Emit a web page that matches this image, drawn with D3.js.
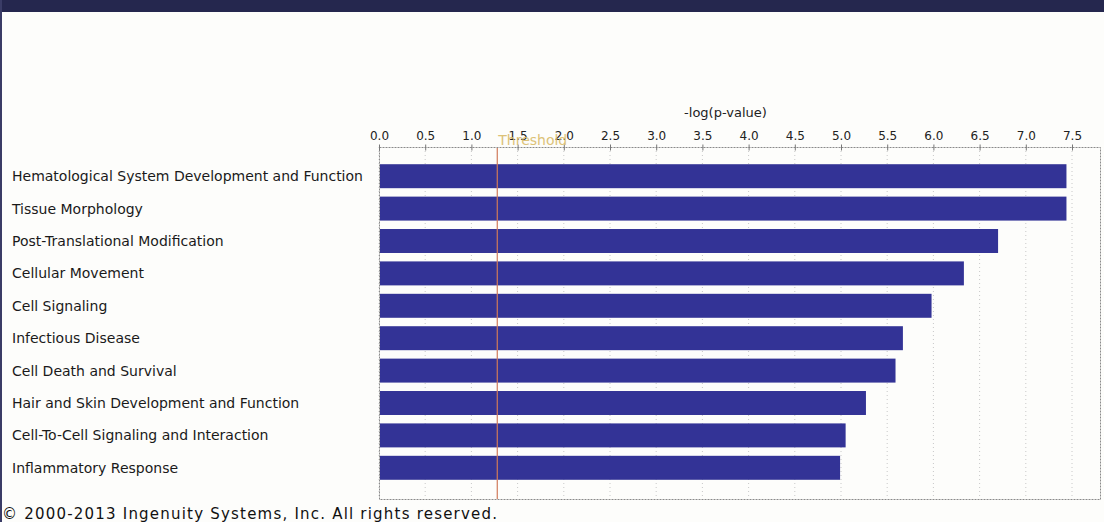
<!DOCTYPE html>
<html>
<head>
<meta charset="utf-8">
<script src="https://cdn.jsdelivr.net/npm/d3@7"></script>
<style>
html,body{margin:0;padding:0;background:#fdfdfb;}
svg{display:block;}
</style>
</head>
<body>
<svg id="chart" width="1104" height="522"></svg>
<script>
const categories = [
  "Hematological System Development and Function",
  "Tissue Morphology",
  "Post-Translational Modification",
  "Cellular Movement",
  "Cell Signaling",
  "Infectious Disease",
  "Cell Death and Survival",
  "Hair and Skin Development and Function",
  "Cell-To-Cell Signaling and Interaction",
  "Inflammatory Response"
];
const values = [7.44, 7.44, 6.70, 6.33, 5.98, 5.67, 5.59, 5.27, 5.05, 4.99];
const tickValues = [0, 0.5, 1, 1.5, 2, 2.5, 3, 3.5, 4, 4.5, 5, 5.5, 6, 6.5, 7, 7.5];
const threshold = 1.28;
const axisTitle = "-log(p-value)";
const thresholdLabel = "Threshold";
const footer = "\u00A9 2000-2013 Ingenuity Systems, Inc. All rights reserved.";

const svg = d3.select("#chart");
const font = "'DejaVu Sans', Verdana, sans-serif";

// background and header band
svg.append("rect").attr("x",0).attr("y",0).attr("width",1104).attr("height",522).attr("fill","#fdfdfb");
svg.append("rect").attr("x",0).attr("y",0).attr("width",1104).attr("height",12).attr("fill","#25274e");
svg.append("rect").attr("x",0).attr("y",0).attr("width",2).attr("height",522).attr("fill","#3a3c66");

const boxL = 379, boxR = 1100, boxT = 147, boxB = 499;
const x = d3.scaleLinear().domain([0, 7.5]).range([379, 1072]);
const y = d3.scaleBand().domain(categories).range([160, 484]).paddingInner(0.26).paddingOuter(0.13);

// grid lines
svg.append("g").selectAll("line").data(tickValues).join("line")
  .attr("x1", d => x(d)).attr("x2", d => x(d))
  .attr("y1", boxT).attr("y2", boxB)
  .attr("stroke", "#c8c8c8").attr("stroke-width", 1).attr("stroke-dasharray", "1,3");

// box
svg.append("rect").attr("x", boxL + 0.5).attr("y", boxT + 0.5)
  .attr("width", boxR - boxL).attr("height", boxB - boxT)
  .attr("fill", "none").attr("stroke", "#8a8a8a").attr("stroke-dasharray", "2,1");

// bars
svg.append("g").selectAll("rect").data(categories).join("rect")
  .attr("x", x(0) + 1)
  .attr("y", d => y(d))
  .attr("width", (d, i) => x(values[i]) - x(0) - 1)
  .attr("height", y.bandwidth())
  .attr("fill", "#333396");

// top axis
const axis = d3.axisTop(x).tickValues(tickValues).tickFormat(d3.format(".1f")).tickSize(4).tickPadding(4);
const ag = svg.append("g").attr("transform", `translate(0,${boxT + 0.5})`).call(axis);
ag.select(".domain").remove();
ag.selectAll(".tick line").attr("stroke", "#777").attr("y2", 3).attr("y1", -3);
ag.selectAll(".tick text").attr("font-family", font).attr("font-size", 12).attr("fill", "#222");

// axis title
svg.append("text").attr("x", x(3.75)).attr("y", 117).attr("text-anchor", "middle")
  .attr("font-family", font).attr("font-size", 13).attr("fill", "#222").text(axisTitle);

// threshold
svg.append("line").attr("x1", x(threshold)).attr("x2", x(threshold))
  .attr("y1", boxT + 1).attr("y2", boxB)
  .attr("stroke", "#d07a5a").attr("stroke-width", 1.2);
svg.append("text").attr("x", x(threshold) + 1).attr("y", 145).attr("text-anchor", "start")
  .attr("font-family", font).attr("font-size", 14).attr("fill", "#d9bc6a").attr("opacity", 0.9).text(thresholdLabel);

// category labels
svg.append("g").selectAll("text").data(categories).join("text")
  .attr("x", 12).attr("y", d => y(d) + y.bandwidth() / 2)
  .attr("dy", "0.35em")
  .attr("font-family", font).attr("font-size", 14).attr("fill", "#1a1a1a")
  .text(d => d);

// footer
svg.append("text").attr("x", 2).attr("y", 519)
  .attr("font-family", font).attr("font-size", 15).attr("fill", "#111")
  .attr("textLength", 495).attr("lengthAdjust", "spacing").text(footer);
</script>
</body>
</html>
